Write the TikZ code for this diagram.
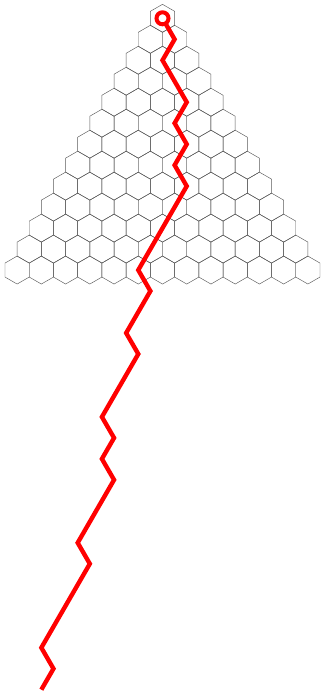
\documentclass[tikz,border=0pt]{standalone}
\begin{document}
\begin{tikzpicture}[x=1pt,y=-1pt,
  hexcell/.style={draw=black!65, line width=0.45pt},
  walk/.style={draw=red, line width=4.4pt, line join=miter, line cap=butt},
  startmark/.style={circle, draw=red, fill=white, line width=4pt, minimum size=12pt, inner sep=0pt}]
\useasboundingbox (0,0) rectangle (322,693);
\def\cx{162.5}\def\cy{18.3}\def\hw{24.23}\def\vs{20.98}\def\R{13.99}
% hexagon triangle
\foreach \r in {0,...,12}{
  \foreach \i in {0,...,\r}{
    \draw[hexcell, shift={({\cx+(\i-\r/2)*\hw},{\cy+\r*\vs})}]
      (90:\R) -- (30:\R) -- (-30:\R) -- (-90:\R) -- (-150:\R) -- (150:\R) -- cycle;
  }
}
% walk points
\foreach \k/\o in {0/0,1/1,2/0,3/1,4/2,5/1,6/2,7/1,8/2,9/1,10/0,11/-1,12/-2,13/-1,14/-2,15/-3,16/-2,17/-3,18/-4,19/-5,20/-4,21/-5,22/-4,23/-5,24/-6,25/-7,26/-6,27/-7,28/-8,29/-9,30/-10,31/-9,32/-10}{
  \coordinate (p\k) at ({\cx+\o*\hw/2},{\cy+\k*\vs});
}
\draw[walk] (p0) \foreach \k in {1,...,32}{ -- (p\k)};
\node[startmark] (start) at (p0) {};
\end{tikzpicture}
\end{document}
